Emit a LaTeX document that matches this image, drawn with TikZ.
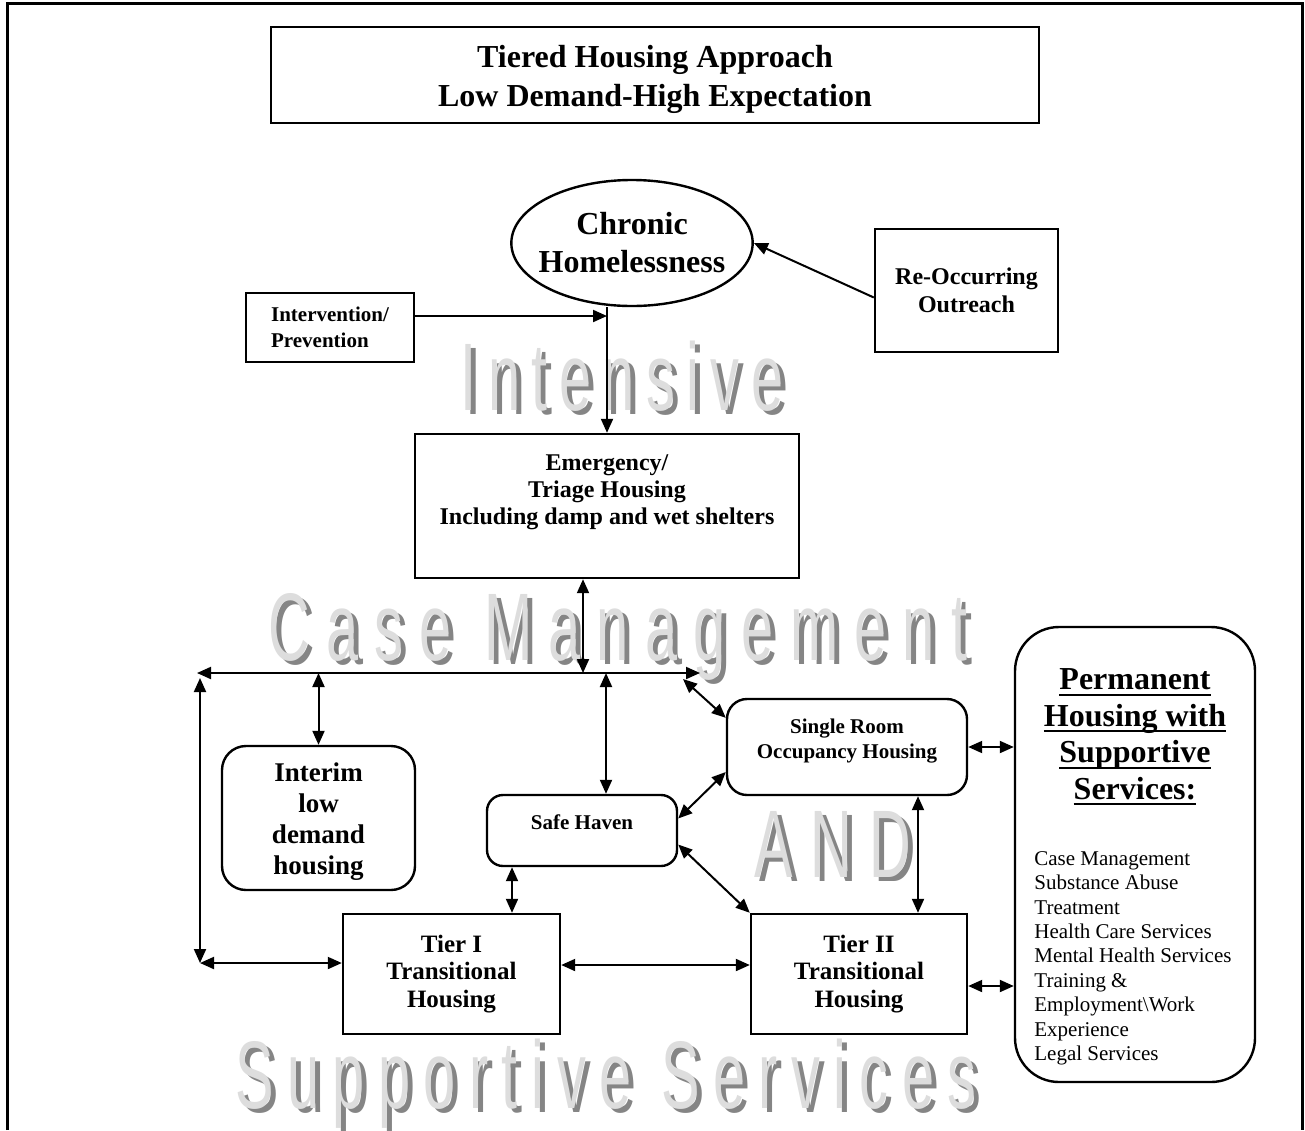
\documentclass[tikz,border=0pt]{standalone}
\usepackage{fontspec}
\setmainfont{Liberation Serif}
\newfontfamily\artfont[FakeStretch=0.6]{Liberation Sans}
\usepackage{xcolor}
\usepackage{tikz}
\usetikzlibrary{arrows.meta,positioning,calc,shapes.geometric}

\definecolor{artlight}{HTML}{DDDDDD}
\definecolor{artdark}{HTML}{858585}

% shaded background lettering: name, baseline point, letter spacing, text
\newcommand\wordart[4]{%
  \node[artshade] (#1s) at ($#2+(5,4)$) {\addfontfeature{LetterSpace=#3}#4};
  \node[artface] (#1) at #2 {\addfontfeature{LetterSpace=#3}#4};}
% heavier underline for the permanent housing heading
\newcommand\ulhead[1]{\setbox0\hbox{#1}\rlap{\rule[-3pt]{\wd0}{1pt}}\box0}

\begin{document}
\begin{tikzpicture}[x=0.5pt, y=-0.5pt,
  box/.style={draw, line width=1.2pt, fill=white, inner sep=0pt, align=center},
  rbox/.style={box, rounded corners=10pt},
  arr/.style={-{Triangle[length=7pt,width=6pt]}, line width=1pt},
  dbl/.style={{Triangle[length=7pt,width=6pt]}-{Triangle[length=7pt,width=6pt]}, line width=1pt},
  txt/.style={align=center, inner sep=0pt},
  artface/.style={anchor=base, inner sep=0pt, text=artlight, font=\artfont\fontsize{48}{48}\selectfont},
  artshade/.style={artface, text=artdark}
]
\useasboundingbox (0,0) rectangle (1305,1130);

\wordart{intensive}{(622,410)}{12}{Intensive}
\wordart{casemgmt}{(618,660)}{17}{Case Management}
\wordart{and}{(833,877)}{18}{AND}
\wordart{supserv}{(606,1108)}{14}{Supportive Services}

% page frame
\draw[line width=1.5pt] (7,1130) -- (7,3) -- (1302,3) -- (1302,1130);

\node[box, minimum width=384pt, minimum height=48pt] (title) at (655,75) {};
\node[txt, font=\fontsize{16}{19.5}\selectfont\bfseries] (titletxt) at (655,79)
  {Tiered Housing Approach\\Low Demand-High Expectation};
\node[ellipse, draw, line width=1.2pt, fill=white, inner xsep=-4pt, inner ysep=5pt, minimum width=120pt, minimum height=63pt, align=center,
  font=\fontsize{16}{19}\selectfont\bfseries] (chronic) at (632,243) {Chronic\\Homelessness};
\node[box, minimum width=91.5pt, minimum height=61.5pt, font=\fontsize{12}{14}\selectfont\bfseries] (outreach) at (966.5,290.5)
  {Re-Occurring\\Outreach};
\node[box, align=left, minimum width=84pt, minimum height=34.5pt, font=\fontsize{10.5}{13}\selectfont\bfseries] (prev) at (330,327.5)
  {Intervention/\\Prevention};

\node[box, minimum width=192pt, minimum height=72pt] (emerg) at (607,506) {};
\node[txt, font=\fontsize{12}{13.5}\selectfont\bfseries] (emergtxt) at (607,492)
  {Emergency/\\Triage Housing\\Including damp and wet shelters};

\node[rbox, rounded corners=12pt, minimum width=96.5pt, minimum height=72pt] (interim) at (318.5,818) {};
\node[txt, font=\fontsize{13.5}{15.5}\selectfont\bfseries] (interimtxt) at (318.5,822) {Interim\\low\\demand\\housing};
\node[rbox, rounded corners=8pt, minimum width=95pt, minimum height=35.5pt] (haven) at (582,830.5) {};
\node[txt, font=\fontsize{10.5}{12.5}\selectfont\bfseries] (haventxt) at (582,822) {Safe Haven};
\node[rbox, minimum width=120pt, minimum height=48pt] (sro) at (847,747) {};
\node[txt, font=\fontsize{10.5}{12.5}\selectfont\bfseries] (srotxt) at (847,741.5) {Single Room\\Occupancy Housing};

\node[box, minimum width=108.5pt, minimum height=60pt, font=\fontsize{12.5}{13.75}\selectfont\bfseries] (tierone) at (451.5,974)
  {Tier I\\Transitional\\Housing};
\node[box, minimum width=108pt, minimum height=60pt, font=\fontsize{12.5}{13.75}\selectfont\bfseries] (tiertwo) at (859,974)
  {Tier II\\Transitional\\Housing};

\node[rbox, rounded corners=22pt, minimum width=120pt, minimum height=227.5pt] (perm) at (1135,854.5) {};
\node[txt, font=\fontsize{16}{18.3}\selectfont\bfseries] (permtxt) at (1135,737)
  {\ulhead{Permanent}\\\ulhead{Housing with}\\\ulhead{Supportive}\\\ulhead{Services:}};
\node[txt, align=left, anchor=north west, font=\fontsize{10.5}{12.2}\selectfont] (permlist) at (1034,851)
  {Case Management\\Substance Abuse\\Treatment\\Health Care Services\\Mental Health Services\\Training \&\\Employment\textbackslash Work\\Experience\\Legal Services};

% connectors
\coordinate (join) at (607,316);
\coordinate (busL) at (197,673);
\coordinate (busR) at (700,673);
\coordinate (sideT) at (200,678);
\coordinate (sideB) at (200,963);

\draw[arr] ($(outreach.west)+(0,7)$) -- (chronic.east);
\draw[arr] (prev.east |- join) -- (join);
\draw[arr] (join |- chronic.south) -- (join |- emerg.north);
\draw[dbl] ($(emerg.south)+(-24,0)$) coordinate (e1) -- (e1 |- busL);
\draw[dbl] (busL) -- (busR);
\draw[dbl] (sideT) -- (sideB);
\draw[dbl] (sideB) -- (tierone.west |- sideB);
\draw[dbl] (interim.north) -- (interim.north |- busL);
\draw[dbl] ($(haven.north)+(24,0)$) coordinate (h1) -- (h1 |- busL);
\draw[dbl] ($(busR)+(-17,6)$) -- ($(sro.north west)+(0,20)$);
\draw[dbl] ($(sro.west)+(0,25)$) -- ($(haven.east)+(0,-12)$);
\draw[dbl] ($(haven.east)+(0,14)$) -- (tiertwo.north west);
\draw[dbl] ($(haven.south)+(-70,0)$) coordinate (h2) -- (h2 |- tierone.north);
\draw[dbl] ($(tierone.east)+(0,-9)$) -- ($(tiertwo.west)+(0,-9)$);
\draw[dbl] ($(sro.south)+(71,0)$) coordinate (s1) -- (s1 |- tiertwo.north);
\draw[dbl] (sro.east) -- (sro.east -| perm.west);
\draw[dbl] ($(tiertwo.east)+(0,12)$) coordinate (t2) -- (t2 -| perm.west);
\end{tikzpicture}
\end{document}
